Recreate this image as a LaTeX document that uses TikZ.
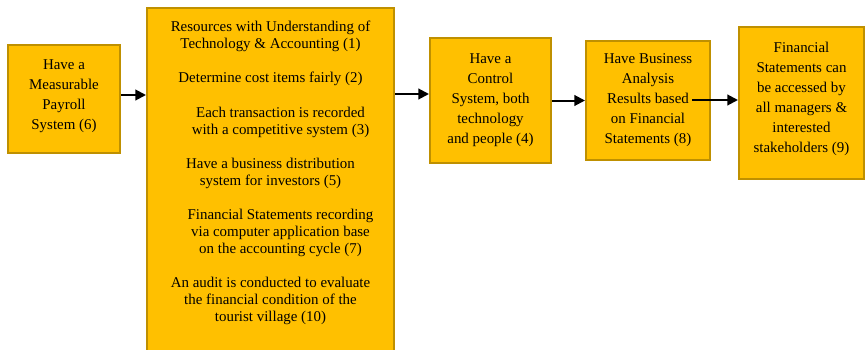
\documentclass[tikz,border=0pt]{standalone}
\usepackage{fontspec}
\setmainfont{Liberation Serif}
\usepackage{tikz}
\usetikzlibrary{shapes.geometric, arrows.meta, positioning}

\definecolor{gold}{HTML}{FFC000}
\definecolor{darkgold}{HTML}{BF9000}

\begin{document}
\begin{tikzpicture}[x=0.75pt, y=-0.75pt]

\tikzstyle{goalbox} = [rectangle, draw=darkgold, line width=1.5pt, fill=gold, align=center, inner sep=2pt, font=\fontsize{11.2}{15}\selectfont]
\tikzstyle{listtext} = [align=center, inner sep=0pt, font=\fontsize{11.2}{12.75}\selectfont]
\tikzstyle{arrow} = [line width=1.5pt, -{Triangle[length=8pt, width=8pt]}]

\clip (0,0) rectangle (865,350);

\node (A) [goalbox, minimum width=84pt, minimum height=81pt] at (64,99) {Have a\\Measurable\\Payroll\\System (6)\\[-9pt]};
\node (B) [goalbox, minimum width=185.25pt, minimum height=261pt] at (270.5,182) {};
\node (Btext) [listtext, anchor=north] at (270.5,21) {Resources with Understanding of\\Technology \& Accounting (1)\\[12.5pt]
Determine cost items fairly (2)\\[13.5pt]
\hspace*{15pt}Each transaction is recorded\\\hspace*{15pt}with a competitive system (3)\\[12.5pt]
Have a business distribution\\system for investors (5)\\[13pt]
\hspace*{15pt}Financial Statements recording\\\hspace*{15pt}via computer application base\\\hspace*{15pt}on the accounting cycle (7)\\[12.5pt]
An audit is conducted to evaluate\\the financial condition of the\\tourist village (10)};
\node (C) [goalbox, minimum width=90.75pt, minimum height=93.75pt] at (490.5,100.5) {Have a\\Control\\System, both\\technology\\and people (4)};
\node (D) [goalbox, minimum width=93pt, minimum height=89.25pt] at (648,100.5) {Have Business\\Analysis\\Results based\\on Financial\\Statements (8)};
\node (E) [goalbox, minimum width=93.75pt, minimum height=114pt] at (801.5,103) {Financial\\Statements can\\be accessed by\\all managers \&\\interested\\stakeholders (9)\\[-6pt]};
\coordinate (DE) at (692,100);

\draw [arrow] (A.east |- 0,95) -- (B.west |- 0,95);
\draw [arrow] (B.east |- 0,94) -- (C.west |- 0,94);
\draw [arrow] (C) -- (D);
\draw [arrow] (DE) -- (E.west |- DE);

\end{tikzpicture}
\end{document}
